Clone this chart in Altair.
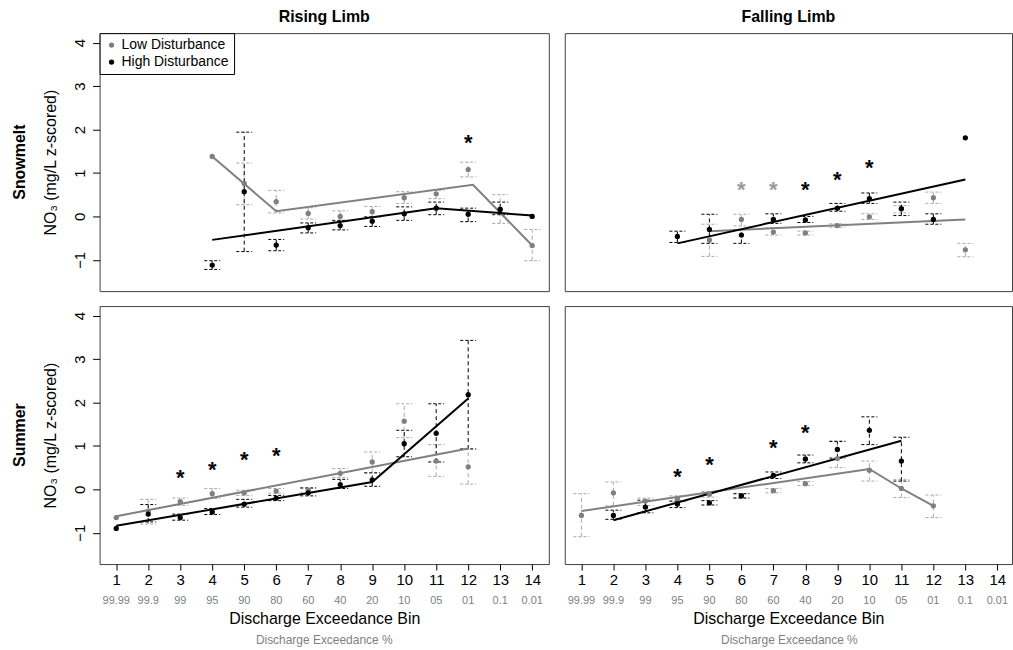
import altair as alt
import pandas as pd

N = None
bins = list(range(1, 15))
pct_labels = ["99.99", "99.9", "99", "95", "90", "80", "60", "40", "20", "10", "05", "01", "0.1", "0.01"]
group_names = ["Low Disturbance", "High Disturbance"]
col_titles = ["Rising Limb", "Falling Limb"]
row_titles = ["Snowmelt", "Summer"]
y_title = "NO₃ (mg/L z-scored)"
x_title = "Discharge Exceedance Bin"
x_subtitle = ["Discharge Exceedance %"]

# Snowmelt - Rising limb
sr_low_mean = [N, N, N, 1.38, 0.76, 0.34, 0.07, 0.00, 0.11, 0.43, 0.52, 1.08, 0.17, -0.67]
sr_low_lo = [N, N, N, N, 0.27, 0.08, -0.06, -0.12, -0.02, 0.30, 0.41, 0.91, -0.16, -1.02]
sr_low_hi = [N, N, N, N, 1.23, 0.60, 0.20, 0.13, 0.23, 0.57, 0.60, 1.25, 0.50, -0.30]
sr_high_mean = [N, N, N, -1.12, 0.57, -0.66, -0.26, -0.21, -0.11, 0.06, 0.19, 0.05, 0.16, 0.00]
sr_high_lo = [N, N, N, -1.22, -0.81, -0.79, -0.38, -0.31, -0.23, -0.09, 0.04, -0.12, 0.04, N]
sr_high_hi = [N, N, N, -1.02, 1.94, -0.53, -0.15, -0.09, -0.01, 0.22, 0.33, 0.19, 0.33, N]
sr_low_line_x = [4, 6, 12.15, 14]
sr_low_line_y = [1.38, 0.12, 0.73, -0.67]
sr_high_line_x = [4, 11, 14]
sr_high_line_y = [-0.54, 0.19, 0.02]
sr_star_bin = [12]
sr_star_y = [1.80]
sr_star_grp = ["High Disturbance"]

# Snowmelt - Falling limb
sf_low_mean = [N, N, N, N, -0.54, -0.07, -0.36, -0.38, -0.21, -0.01, 0.17, 0.43, -0.77, N]
sf_low_lo = [N, N, N, N, -0.92, -0.22, -0.43, -0.43, -0.25, -0.07, 0.08, 0.30, -0.93, N]
sf_low_hi = [N, N, N, N, -0.18, 0.05, -0.26, -0.34, -0.17, 0.06, 0.25, 0.56, -0.62, N]
sf_high_mean = [N, N, N, -0.46, -0.30, -0.43, -0.07, -0.08, 0.19, 0.41, 0.18, -0.07, 1.81, N]
sf_high_lo = [N, N, N, -0.60, -0.62, -0.62, -0.16, -0.14, 0.12, 0.30, 0.02, -0.18, N, N]
sf_high_hi = [N, N, N, -0.34, 0.05, -0.30, 0.06, 0.00, 0.30, 0.54, 0.33, 0.06, N, N]
sf_low_line_x = [5, 13]
sf_low_line_y = [-0.34, -0.07]
sf_high_line_x = [4, 13]
sf_high_line_y = [-0.62, 0.85]
sf_star_bin = [6, 7, 8, 9, 10]
sf_star_y = [0.72, 0.72, 0.72, 0.96, 1.24]
sf_star_grp = ["Low Disturbance", "Low Disturbance", "High Disturbance", "High Disturbance", "High Disturbance"]

# Summer - Rising limb
ur_low_mean = [-0.65, -0.50, -0.28, -0.10, -0.08, -0.04, -0.02, 0.37, 0.63, 1.57, 0.65, 0.52, N, N]
ur_low_lo = [N, -0.80, -0.37, -0.21, -0.14, -0.09, -0.08, 0.27, 0.38, 1.19, 0.30, 0.12, N, N]
ur_low_hi = [N, -0.23, -0.20, 0.02, -0.02, 0.02, 0.04, 0.48, 0.86, 1.97, 1.03, 0.93, N, N]
ur_high_mean = [-0.90, -0.57, -0.65, -0.52, -0.34, -0.20, -0.08, 0.11, 0.22, 1.05, 1.29, 2.18, N, N]
ur_high_lo = [N, -0.75, -0.71, -0.58, -0.41, -0.26, -0.15, 0.02, 0.07, 0.75, 0.63, 0.93, N, N]
ur_high_hi = [N, -0.35, -0.57, -0.44, -0.23, -0.14, 0.03, 0.23, 0.38, 1.36, 1.97, 3.43, N, N]
ur_low_line_x = [1, 12]
ur_low_line_y = [-0.62, 0.94]
ur_high_line_x = [1, 9, 12]
ur_high_line_y = [-0.84, 0.17, 2.09]
ur_star_bin = [3, 4, 5, 6]
ur_star_y = [0.37, 0.57, 0.79, 0.88]
ur_star_grp = ["High Disturbance"] * 4

# Summer - Falling limb
uf_low_mean = [-0.60, -0.08, -0.27, -0.21, -0.11, -0.15, -0.03, 0.13, 0.71, 0.44, 0.02, -0.38, N, N]
uf_low_lo = [-1.09, -0.38, -0.37, -0.28, -0.18, -0.20, -0.08, 0.09, 0.50, 0.19, -0.19, -0.65, N, N]
uf_low_hi = [-0.10, 0.17, -0.20, -0.15, -0.05, -0.10, 0.02, 0.18, 1.12, 0.65, 0.23, -0.13, N, N]
uf_high_mean = [N, -0.60, -0.41, -0.34, -0.31, -0.15, 0.32, 0.70, 0.92, 1.36, 0.65, N, N, N]
uf_high_lo = [N, -0.69, -0.54, -0.42, -0.36, -0.20, 0.25, 0.61, 0.72, 1.03, 0.19, N, N, N]
uf_high_hi = [N, -0.48, -0.25, -0.27, -0.26, -0.10, 0.40, 0.79, 1.10, 1.67, 1.20, N, N, N]
uf_low_line_x = [1, 10, 11, 12]
uf_low_line_y = [-0.50, 0.47, 0.02, -0.38]
uf_high_line_x = [2, 11]
uf_high_line_y = [-0.71, 1.12]
uf_star_bin = [4, 5, 7, 8]
uf_star_y = [0.40, 0.67, 1.07, 1.42]
uf_star_grp = ["High Disturbance"] * 4

PT_COL = {"Low Disturbance": "#7f7f7f", "High Disturbance": "#000000"}
ERR_COL = {"Low Disturbance": "#a8a8a8", "High Disturbance": "#000000"}
LINE_COL = {"Low Disturbance": "#808080", "High Disturbance": "#000000"}
STAR_COL = {"Low Disturbance": "#9a9a9a", "High Disturbance": "#000000"}

W_L, W_R, H = 451, 449, 259
YDOM = [-1.72, 4.22]
PX_PER_BIN = W_L / 14.04
XDOM_L = [0.48, 14.52]
XDOM_R = [0.48, 0.48 + W_R / PX_PER_BIN]
FONT = "Liberation Sans"


def series_df(mean, lo, hi, group):
    rows = []
    for b, m, l, h in zip(bins, mean, lo, hi):
        if m is None:
            continue
        rows.append({"bin": b, "mean": m, "lo": l, "hi": h, "group": group})
    return pd.DataFrame(rows)


def make_panel(spec, width, xdom, show_x, show_y, col_title=None, row_title=None, legend=False):
    xs = alt.Scale(domain=xdom, nice=False, zero=False)
    ys = alt.Scale(domain=YDOM, nice=False, zero=False)
    if show_x:
        xaxis = alt.Axis(values=bins, format="d", tickSize=6, tickColor="black", labelFontSize=15,
                         labelPadding=3, labelColor="black", domain=False, grid=False,
                         titleFontSize=16, titleFontWeight="normal", titlePadding=23, titleColor="black")
        xkw = {"title": x_title}
    else:
        xaxis = None
        xkw = {}
    if show_y:
        yaxis = alt.Axis(values=[-1, 0, 1, 2, 3, 4], labelAngle=270, labelAlign="center",
                         labelBaseline="bottom", tickSize=7, tickColor="black", labelFontSize=15,
                         labelPadding=5, labelColor="black", domain=False, grid=False,
                         titleFontSize=16, titleFontWeight="normal", titlePadding=14, titleColor="black")
        ykw = {"title": y_title}
    else:
        yaxis = None
        ykw = {}

    def X(f):
        return alt.X(f"{f}:Q", scale=xs, axis=xaxis, **xkw)

    def Y(f):
        return alt.Y(f"{f}:Q", scale=ys, axis=yaxis, **ykw)

    layers = []
    pts = []
    for g in group_names:
        mean, lo, hi = spec[g]["data"]
        d = series_df(mean, lo, hi, g)
        pts.append(d)
        e = d.dropna(subset=["lo", "hi"])
        c = ERR_COL[g]
        layers.append(alt.Chart(e).mark_rule(color=c, strokeWidth=1, strokeDash=[4, 3]).encode(
            x=X("bin"), y=Y("lo"), y2="hi:Q"))
        for f in ["lo", "hi"]:
            layers.append(alt.Chart(e).mark_rule(color=c, strokeWidth=1, strokeDash=[3, 2],
                                                 xOffset=-8, x2Offset=8).encode(
                x=X("bin"), x2="bin:Q", y=Y(f)))
    for g in group_names:
        lx, ly = spec[g]["line"]
        ld = pd.DataFrame({"lx": lx, "ly": ly})
        layers.append(alt.Chart(ld).mark_line(color=LINE_COL[g], strokeWidth=2).encode(
            x=X("lx"), y=Y("ly")))
    pdf = pd.concat(pts, ignore_index=True)
    leg = None
    if legend:
        leg = alt.Legend(orient="top-left", offset=0, title=None, strokeColor="black",
                         fillColor="white", padding=5, labelFontSize=14, labelColor="black",
                         symbolSize=28, symbolType="circle", rowPadding=3, labelOffset=3,
                         labelFont=FONT)
    layers.append(alt.Chart(pdf).mark_circle(size=28, opacity=1).encode(
        x=X("bin"), y=Y("mean"),
        color=alt.Color("group:N", scale=alt.Scale(domain=group_names,
                                                    range=[PT_COL[g] for g in group_names]),
                        legend=leg)))
    sb, sy, sg = spec["stars"]
    for g in group_names:
        sd = pd.DataFrame({"bin": sb, "y": sy, "group": sg, "s": ["*"] * len(sb)})
        sd = sd[sd.group == g]
        if len(sd):
            layers.append(alt.Chart(sd).mark_text(fontSize=22, fontWeight="bold", color=STAR_COL[g],
                                                  baseline="alphabetic", dy=12).encode(
                x=X("bin"), y=Y("y"), text="s:N"))
    if show_x:
        pctd = pd.DataFrame({"bin": bins, "pct": pct_labels})
        layers.append(alt.Chart(pctd).mark_text(fontSize=11, color="#808080", baseline="middle").encode(
            x=X("bin"), y=alt.value(H + 37), text="pct:N"))
        subd = pd.DataFrame({"t": x_subtitle})
        layers.append(alt.Chart(subd).mark_text(fontSize=12, color="#808080", baseline="middle").encode(
            x=alt.value(W_L / 2), y=alt.value(H + 76), text="t:N"))
    if row_title:
        rd = pd.DataFrame({"t": [row_title]})
        layers.append(alt.Chart(rd).mark_text(fontSize=16, fontWeight="bold", color="black", angle=270,
                                              baseline="middle", align="center").encode(
            x=alt.value(-80), y=alt.value(H / 2), text="t:N"))
    props = {"width": width, "height": H}
    if col_title:
        props["title"] = alt.TitleParams(col_title, fontSize=16, fontWeight="bold", anchor="middle",
                                         frame="group", offset=8, color="black")
    return alt.layer(*layers).properties(**props)


def spec_of(lm, ll, lh, hm, hl, hh, llx, lly, hlx, hly, sb, sy, sg):
    return {
        "Low Disturbance": {"data": (lm, ll, lh), "line": (llx, lly)},
        "High Disturbance": {"data": (hm, hl, hh), "line": (hlx, hly)},
        "stars": (sb, sy, sg),
    }


sr = spec_of(sr_low_mean, sr_low_lo, sr_low_hi, sr_high_mean, sr_high_lo, sr_high_hi,
             sr_low_line_x, sr_low_line_y, sr_high_line_x, sr_high_line_y, sr_star_bin, sr_star_y, sr_star_grp)
sf = spec_of(sf_low_mean, sf_low_lo, sf_low_hi, sf_high_mean, sf_high_lo, sf_high_hi,
             sf_low_line_x, sf_low_line_y, sf_high_line_x, sf_high_line_y, sf_star_bin, sf_star_y, sf_star_grp)
ur = spec_of(ur_low_mean, ur_low_lo, ur_low_hi, ur_high_mean, ur_high_lo, ur_high_hi,
             ur_low_line_x, ur_low_line_y, ur_high_line_x, ur_high_line_y, ur_star_bin, ur_star_y, ur_star_grp)
uf = spec_of(uf_low_mean, uf_low_lo, uf_low_hi, uf_high_mean, uf_high_lo, uf_high_hi,
             uf_low_line_x, uf_low_line_y, uf_high_line_x, uf_high_line_y, uf_star_bin, uf_star_y, uf_star_grp)

tl = make_panel(sr, W_L, XDOM_L, False, True, col_title=col_titles[0], row_title=row_titles[0], legend=True)
tr = make_panel(sf, W_R, XDOM_R, False, False, col_title=col_titles[1])
bl = make_panel(ur, W_L, XDOM_L, True, True, row_title=row_titles[1])
br = make_panel(uf, W_R, XDOM_R, True, False)

row1 = alt.hconcat(tl, tr, spacing=14).resolve_legend(color="independent")
row2 = alt.hconcat(bl, br, spacing=14).resolve_legend(color="independent")

chart = (
    alt.vconcat(row1, row2, spacing=13)
    .resolve_legend(color="independent")
    .properties(padding={"left": 11, "top": 7, "right": 0, "bottom": 0}, background="white")
    .configure(font=FONT)
    .configure_view(stroke="#404040", strokeWidth=1)
)

chart.save("out.html", embed_options={"renderer": "svg", "actions": False})
